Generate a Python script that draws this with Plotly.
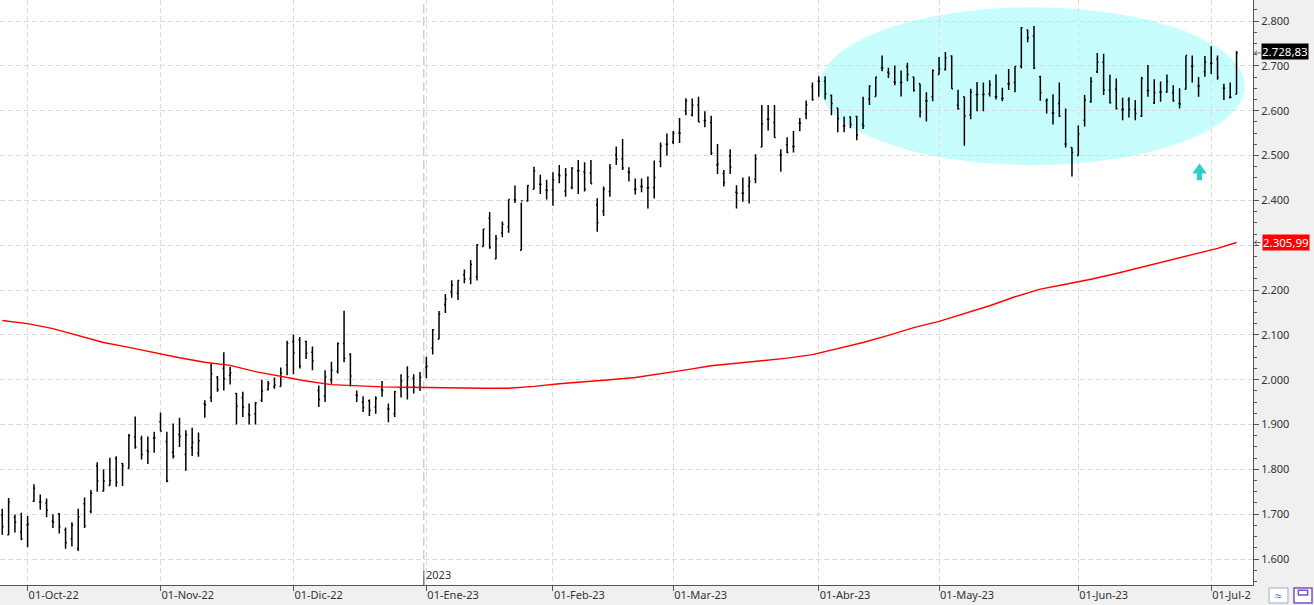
import numpy as np
import pandas as pd
import plotly.graph_objects as go

# ---------------- data ----------------
us_holidays = ["2022-11-24", "2022-12-26", "2023-01-02", "2023-01-16", "2023-02-20",
               "2023-04-07", "2023-05-29", "2023-06-19", "2023-07-04"]
dates = pd.bdate_range("2022-09-27", "2023-07-10", freq="C", holidays=us_holidays)

opens = [1698, 1654, 1693, 1660, 1676, 1729, 1727, 1725, 1684, 1701,
         1665, 1645, 1623, 1723, 1706, 1808, 1751, 1764, 1824, 1813,
         1802, 1872, 1868, 1842, 1870, 1906, 1862, 1838, 1878, 1833,
         1848, 1836, 1946, 1960, 2005, 2025, 2010, 1969, 1960, 1923,
         1924, 1954, 1978, 1984, 1985, 2033, 2085, 2089, 2085, 2061,
         1976, 1963, 2000, 2018, 2081, 2057, 1966, 1950, 1953, 1939,
         1978, 1935, 1924, 1980, 1982, 2003, 1982, 2027, 2070, 2090,
         2168, 2195, 2193, 2234, 2226, 2229, 2297, 2360, 2270, 2327,
         2341, 2402, 2289, 2400, 2425, 2436, 2423, 2423, 2457, 2421,
         2429, 2466, 2464, 2461, 2390, 2376, 2420, 2501, 2493, 2464,
         2425, 2431, 2428, 2429, 2487, 2525, 2531, 2550, 2600, 2591,
         2613, 2578, 2574, 2479, 2460, 2499, 2418, 2416, 2432, 2447,
         2519, 2581, 2574, 2501, 2524, 2520, 2572, 2593, 2654, 2666,
         2666, 2634, 2606, 2566, 2586, 2587, 2569, 2626, 2632, 2696,
         2686, 2664, 2663, 2698, 2675, 2660, 2622, 2631, 2681, 2692,
         2722, 2612, 2631, 2591, 2636, 2636, 2638, 2631, 2627, 2660,
         2663, 2699, 2780, 2766, 2676, 2622, 2595, 2616, 2526, 2518,
         2500, 2579, 2620, 2687, 2708, 2646, 2648, 2603, 2624, 2603,
         2588, 2645, 2618, 2642, 2642, 2640, 2616, 2648, 2699, 2655,
         2687, 2706, 2715, 2650, 2630, 2637]
highs = [1712, 1736, 1699, 1703, 1696, 1767, 1744, 1735, 1700, 1702,
         1670, 1682, 1712, 1737, 1754, 1816, 1800, 1826, 1829, 1814,
         1879, 1918, 1875, 1873, 1884, 1927, 1884, 1902, 1915, 1887,
         1893, 1882, 1954, 2036, 2008, 2061, 2029, 1971, 1973, 1947,
         1950, 2000, 1997, 2005, 2027, 2087, 2101, 2095, 2087, 2074,
         1987, 2021, 2040, 2083, 2154, 2059, 1976, 1963, 1956, 1963,
         1997, 1947, 1975, 2012, 2030, 2012, 2017, 2051, 2113, 2153,
         2191, 2222, 2222, 2246, 2267, 2302, 2336, 2374, 2323, 2353,
         2402, 2433, 2395, 2434, 2475, 2457, 2446, 2463, 2479, 2472,
         2474, 2490, 2485, 2490, 2405, 2431, 2481, 2520, 2537, 2474,
         2449, 2449, 2453, 2489, 2529, 2549, 2555, 2584, 2628, 2627,
         2631, 2599, 2589, 2526, 2468, 2514, 2434, 2451, 2453, 2503,
         2613, 2613, 2613, 2514, 2541, 2555, 2584, 2623, 2663, 2677,
         2677, 2636, 2606, 2587, 2587, 2589, 2631, 2657, 2675, 2723,
         2696, 2701, 2690, 2707, 2675, 2660, 2641, 2692, 2720, 2731,
         2723, 2647, 2631, 2649, 2664, 2663, 2668, 2681, 2651, 2693,
         2699, 2787, 2781, 2789, 2678, 2627, 2637, 2663, 2605, 2518,
         2567, 2635, 2675, 2729, 2727, 2680, 2672, 2629, 2630, 2624,
         2676, 2702, 2670, 2665, 2681, 2657, 2650, 2723, 2723, 2675,
         2722, 2744, 2723, 2660, 2663, 2733]
lows = [1654, 1653, 1659, 1642, 1626, 1727, 1710, 1693, 1669, 1657,
        1623, 1628, 1618, 1669, 1702, 1750, 1751, 1764, 1761, 1763,
        1802, 1846, 1822, 1812, 1837, 1885, 1771, 1824, 1850, 1797,
        1830, 1828, 1915, 1950, 1973, 1976, 1989, 1900, 1917, 1900,
        1900, 1950, 1976, 1980, 1985, 2010, 2012, 2025, 2046, 2021,
        1939, 1950, 1991, 2014, 2039, 1985, 1950, 1928, 1919, 1924,
        1962, 1905, 1917, 1960, 1956, 1969, 1975, 2003, 2056, 2090,
        2149, 2183, 2178, 2215, 2213, 2221, 2297, 2292, 2269, 2318,
        2328, 2394, 2288, 2397, 2425, 2414, 2402, 2388, 2438, 2408,
        2425, 2414, 2420, 2437, 2330, 2365, 2408, 2479, 2468, 2442,
        2413, 2418, 2382, 2404, 2474, 2500, 2526, 2528, 2590, 2587,
        2575, 2563, 2501, 2459, 2431, 2459, 2382, 2397, 2393, 2438,
        2519, 2556, 2540, 2464, 2505, 2507, 2554, 2581, 2622, 2631,
        2625, 2590, 2552, 2552, 2561, 2534, 2559, 2613, 2632, 2688,
        2673, 2657, 2632, 2666, 2643, 2585, 2576, 2621, 2681, 2690,
        2649, 2602, 2522, 2581, 2599, 2599, 2632, 2625, 2621, 2646,
        2641, 2694, 2753, 2693, 2622, 2594, 2569, 2586, 2518, 2453,
        2500, 2565, 2618, 2684, 2635, 2616, 2603, 2579, 2585, 2579,
        2586, 2631, 2615, 2620, 2640, 2620, 2605, 2648, 2663, 2631,
        2676, 2682, 2669, 2624, 2627, 2637]
closes = [1672, 1727, 1682, 1645, 1678, 1758, 1727, 1709, 1682, 1672,
          1636, 1676, 1694, 1674, 1747, 1774, 1774, 1775, 1771, 1808,
          1875, 1850, 1833, 1840, 1870, 1885, 1774, 1829, 1873, 1877,
          1860, 1864, 1944, 2014, 1978, 2002, 2015, 1941, 1939, 1920,
          1948, 1975, 1991, 1988, 2015, 2081, 2060, 2030, 2059, 2042,
          1956, 2006, 2021, 2081, 2048, 2008, 1965, 1938, 1932, 1958,
          1976, 1934, 1973, 1997, 2006, 1984, 2005, 2030, 2111, 2146,
          2180, 2211, 2221, 2224, 2257, 2301, 2336, 2295, 2315, 2347,
          2402, 2401, 2399, 2433, 2466, 2436, 2422, 2446, 2455, 2457,
          2472, 2466, 2425, 2437, 2350, 2425, 2472, 2492, 2472, 2462,
          2425, 2431, 2428, 2451, 2522, 2525, 2550, 2550, 2622, 2613,
          2575, 2578, 2505, 2481, 2440, 2474, 2416, 2416, 2442, 2493,
          2571, 2581, 2540, 2501, 2507, 2520, 2572, 2613, 2625, 2666,
          2638, 2616, 2582, 2566, 2569, 2546, 2566, 2655, 2675, 2696,
          2683, 2663, 2663, 2681, 2645, 2597, 2622, 2690, 2693, 2718,
          2649, 2604, 2589, 2641, 2636, 2636, 2658, 2631, 2628, 2660,
          2699, 2785, 2763, 2695, 2640, 2624, 2595, 2588, 2526, 2507,
          2548, 2624, 2665, 2708, 2646, 2618, 2605, 2603, 2603, 2594,
          2672, 2645, 2640, 2642, 2665, 2622, 2615, 2723, 2699, 2655,
          2708, 2706, 2675, 2650, 2630, 2728.83]

# moving average (red line), read at every 4th session
ma_x = list(range(0, 193, 4)) + [195]
ma_vals = [2132, 2125, 2114, 2099, 2083, 2072, 2060, 2049, 2039, 2032,
           2018, 2008, 1997, 1989, 1986, 1984, 1983, 1982, 1982, 1981,
           1981, 1985, 1991, 1995, 2000, 2005, 2013, 2022, 2031, 2037,
           2042, 2048, 2056, 2070, 2083, 2099, 2116, 2130, 2147, 2165,
           2185, 2202, 2213, 2224, 2237, 2251, 2266, 2280, 2293, 2305.99]

month_abbr = ["Ene", "Feb", "Mar", "Abr", "May", "Jun", "Jul", "Ago", "Sep", "Oct", "Nov", "Dic"]
y_ticks = list(range(1600, 2801, 100))

# ---------------- figure ----------------
n = len(closes)
dates = dates[:n]
xi = np.arange(n)

month_idx, month_lbl = [], []
prev = None
for i, d in enumerate(dates):
    key = (d.year, d.month)
    if key != prev and i > 0:
        month_idx.append(i)
        month_lbl.append(f"01-{month_abbr[d.month - 1]}-{d.strftime('%y')}")
    prev = key
jan_idx = [i for i in month_idx if dates[i].month == 1][0]


def es(v, dec=2):
    s = f"{v:,.{dec}f}"
    return s.replace(",", "X").replace(".", ",").replace("X", ".")


# tick labels hidden where the price labels cover them (as in the original)
y_text = ["" if abs(v - ma_vals[-1]) < 12 else es(v, 0) for v in y_ticks]

FONT = "Segoe UI, Noto Sans, sans-serif"

fig = go.Figure()
fig.add_trace(go.Ohlc(
    x=xi, open=opens, high=highs, low=lows, close=closes,
    increasing=dict(line=dict(color="black", width=1.5)),
    decreasing=dict(line=dict(color="black", width=1.5)),
    tickwidth=0.2, hoverinfo="skip", showlegend=False))
fig.add_trace(go.Scatter(
    x=ma_x, y=ma_vals, mode="lines", line=dict(color="#ff0000", width=1.4),
    hoverinfo="skip", showlegend=False))

shapes = []
# cyan ellipse
shapes.append(dict(type="circle", xref="x", yref="y", x0=129.2, x1=196.3, y0=2479, y1=2831,
                   fillcolor="#c8fdfe", line=dict(width=0), layer="below"))
# cyan up arrow
shapes.append(dict(type="path", xref="x", yref="y",
                   path="M 188.0,2460 L 189.15,2482 L 190.3,2460 L 189.55,2460 L 189.55,2445 "
                        "L 188.75,2445 L 188.75,2460 Z",
                   fillcolor="#33cccc", line=dict(width=0), layer="above"))
# year separator
shapes.append(dict(type="line", xref="x", yref="paper", x0=jan_idx - 0.4, x1=jan_idx - 0.4, y0=0, y1=1,
                   line=dict(color="#b8b8b8", width=1, dash="9px,4px"), layer="between"))
shapes.append(dict(type="line", xref="x", yref="paper", x0=jan_idx - 0.4, x1=jan_idx - 0.4, y0=0, y1=0.024,
                   line=dict(color="#555555", width=1), layer="above"))
# small pointer arrows next to the price labels
for v in (closes[-1], ma_vals[-1]):
    shapes.append(dict(type="path", xref="paper", yref="y",
                       path=f"M 1.0060,{v} L 1.0012,{v} M 1.0032,{v + 5} L 1.0012,{v} L 1.0032,{v - 5}",
                       line=dict(color="#666666", width=1), layer="above"))
# cover for clipped bottom-right label area + icons
shapes.append(dict(type="rect", xref="paper", yref="paper", x0=0.9985, x1=1.06, y0=-0.0017, y1=-0.04,
                   fillcolor="#f0f0f0", line=dict(width=0), layer="above"))
shapes.append(dict(type="rect", xref="paper", yref="paper", x0=1.0128, x1=1.0279, y0=-0.0051, y1=-0.0308,
                   fillcolor="#ffffff", line=dict(color="#9ab0c8", width=1), layer="above"))
shapes.append(dict(type="rect", xref="paper", yref="paper", x0=1.0327, x1=1.0471, y0=-0.0051, y1=-0.0308,
                   fillcolor="#ffffff", line=dict(color="#7a52c7", width=1.5), layer="above"))
shapes.append(dict(type="rect", xref="paper", yref="paper", x0=1.0362, x1=1.0436, y0=-0.0090, y1=-0.0170,
                   fillcolor="#ffffff", line=dict(color="#7a52c7", width=1.5), layer="above"))

annotations = [
    dict(text=es(closes[-1]), xref="paper", yref="y", x=1.0066, y=closes[-1] + 4, xanchor="left",
         yanchor="middle", showarrow=False, bgcolor="#000000", font=dict(color="white", size=11.5, family=FONT),
         borderpad=0),
    dict(text=es(ma_vals[-1]), xref="paper", yref="y", x=1.0072, y=ma_vals[-1], xanchor="left",
         yanchor="middle", showarrow=False, bgcolor="#ff0000", font=dict(color="white", size=11.5, family=FONT),
         borderpad=0),
    dict(text=str(dates[jan_idx].year), xref="x", yref="paper", x=jan_idx - 0.3, y=0.002, xanchor="left",
         yanchor="bottom", showarrow=False, font=dict(color="#333333", size=11, family=FONT)),
    dict(text="≈", xref="paper", yref="paper", x=1.0203, y=-0.018, xanchor="center", yanchor="middle",
         showarrow=False, font=dict(color="#3a7bd5", size=12, family=FONT)),
]

fig.update_layout(
    width=1314, height=605,
    margin=dict(l=0, r=61, t=0, b=20),
    paper_bgcolor="#f0f0f0", plot_bgcolor="#ffffff",
    separators=",.",
    showlegend=False, hovermode=False,
    shapes=shapes, annotations=annotations,
    font=dict(family=FONT, size=11, color="#333333"),
)
fig.update_xaxes(
    range=[-0.36, 197.6], rangeslider=dict(visible=False),
    tickmode="array", tickvals=month_idx, ticktext=month_lbl,
    ticks="outside", ticklen=5, tickcolor="#555555",
    ticklabelposition="outside right",
    showline=True, linecolor="#555555", linewidth=1,
    showgrid=True, gridcolor="#dcdcdc", gridwidth=1, griddash="5px,3px",
    zeroline=False, tickfont=dict(size=11, family=FONT, color="#333333"),
)
fig.update_yaxes(
    range=[1542, 2847], side="right",
    tickmode="array", tickvals=y_ticks, ticktext=y_text,
    ticks="outside", ticklen=5, tickcolor="#555555",
    minor=dict(dtick=25, tick0=0, ticks="outside", ticklen=3, tickcolor="#555555", showgrid=False),
    showline=True, linecolor="#555555", linewidth=1,
    showgrid=True, gridcolor="#dcdcdc", gridwidth=1, griddash="5px,3px",
    zeroline=False, tickfont=dict(size=11, family=FONT, color="#333333"),
)

fig.write_html("out.html")
